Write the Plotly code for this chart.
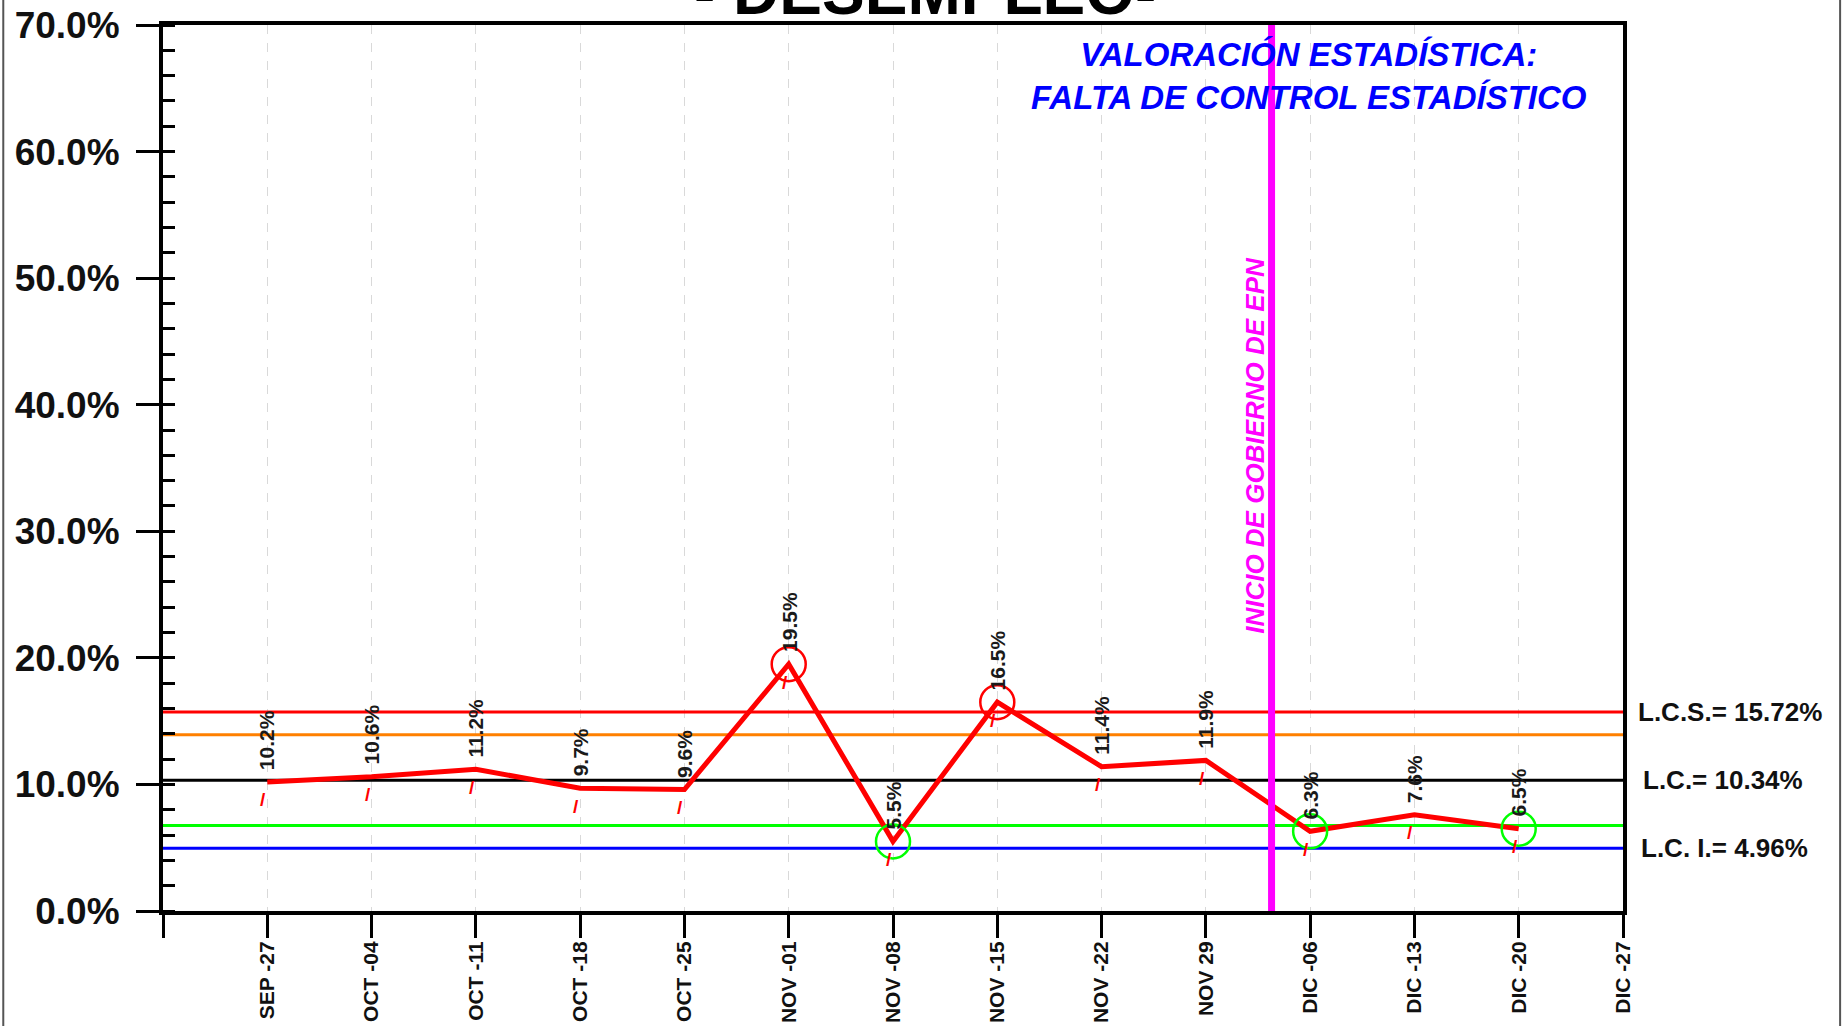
import plotly.graph_objects as go

# ---------------- data ----------------
weeks = ["SEP -27", "OCT -04", "OCT -11", "OCT -18", "OCT -25", "NOV -01", "NOV -08",
         "NOV -15", "NOV -22", "NOV 29", "DIC -06", "DIC -13", "DIC -20", "DIC -27"]
desempleo = [10.2, 10.6, 11.2, 9.7, 9.6, 19.5, 5.5, 16.5, 11.4, 11.9, 6.3, 7.6, 6.5]
LCS = 15.72
LC = 10.34
LCI = 4.96
LIM_SUP_2S = 13.93
LIM_INF_2S = 6.75
epn_pos = 10.63
y_ticks = [0, 10, 20, 30, 40, 50, 60, 70]

FONT = "Arial, Liberation Sans, sans-serif"

positions = list(range(1, len(weeks) + 1))
xs = positions[:len(desempleo)]
x_end = positions[-1]

fig = go.Figure()

# control lines
for val, col in [(LCS, "#ff0000"), (LIM_SUP_2S, "#ff8000"), (LC, "#000000"),
                 (LIM_INF_2S, "#00ff00"), (LCI, "#0000ff")]:
    fig.add_trace(go.Scatter(x=[0, x_end], y=[val, val], mode="lines",
                             line=dict(color=col, width=3), hoverinfo="skip",
                             showlegend=False))

# main data line
fig.add_trace(go.Scatter(x=xs, y=desempleo, mode="lines",
                         line=dict(color="#ff0000", width=5), showlegend=False))

# EPN vertical line
fig.add_trace(go.Scatter(x=[epn_pos, epn_pos], y=[y_ticks[0], y_ticks[-1]], mode="lines",
                         line=dict(color="#ff00ff", width=7), showlegend=False,
                         hoverinfo="skip"))

# out-of-control circles
red_x = [x for x, v in zip(xs, desempleo) if v > LCS]
red_y = [v for v in desempleo if v > LCS]
grn_x = [x for x, v in zip(xs, desempleo) if v < LIM_INF_2S]
grn_y = [v for v in desempleo if v < LIM_INF_2S]
fig.add_trace(go.Scatter(x=red_x, y=red_y, mode="markers",
                         marker=dict(symbol="circle-open", size=34, color="#ff0000",
                                     line=dict(width=2.5, color="#ff0000")),
                         showlegend=False))
fig.add_trace(go.Scatter(x=grn_x, y=grn_y, mode="markers",
                         marker=dict(symbol="circle-open", size=34, color="#00ff00",
                                     line=dict(width=2.5, color="#00ff00")),
                         showlegend=False))

annotations = []
# value labels and small red marks
for x, v in zip(xs, desempleo):
    annotations.append(dict(x=x, y=v, xref="x", yref="y", text=f"{v:.1f}%",
                            textangle=-90, showarrow=False, yanchor="bottom",
                            xanchor="center", yshift=10,
                            font=dict(family=FONT, size=21, color="#1a1a1a", weight="bold")))
    annotations.append(dict(x=x, y=v, xref="x", yref="y", text="/",
                            showarrow=False, yshift=-18, xshift=-4,
                            font=dict(family=FONT, size=19, color="#ff0000", weight="bold")))

# title (cut off at top)
annotations.append(dict(x=0.522, y=1.0, xref="paper", yref="paper", text="- DESEMPLEO-",
                        showarrow=False, yanchor="bottom", xanchor="center", yshift=-5,
                        font=dict(family=FONT, size=64, color="#000000", weight="bold")))
# statistical assessment text
annotations.append(dict(x=0.785, y=0.942, xref="paper", yref="paper",
                        text="VALORACIÓN ESTADÍSTICA:<br>FALTA DE CONTROL ESTADÍSTICO",
                        showarrow=False, xanchor="center", yanchor="middle",
                        font=dict(family=FONT, size=33, color="#0000ff", weight="bold",
                                  style="italic")))
# EPN label
annotations.append(dict(x=10.47, y=0.526, xref="x", yref="paper",
                        text="INICIO DE GOBIERNO DE EPN", textangle=-90, showarrow=False,
                        xanchor="center", yanchor="middle",
                        font=dict(family=FONT, size=26, color="#ff00ff", weight="bold",
                                  style="italic")))
# limit labels
for val, txt, xp in [(LCS, f"L.C.S.= {LCS:.2f}%", 1.009),
                     (LC, f"L.C.= {LC:.2f}%", 1.012),
                     (LCI, f"L.C. I.= {LCI:.2f}%", 1.011)]:
    annotations.append(dict(x=xp, y=val, xref="paper", yref="y", text=txt,
                            showarrow=False, xanchor="left", yanchor="middle",
                            font=dict(family=FONT, size=26, color="#111111", weight="bold")))

shapes = [
    dict(type="line", xref="paper", yref="paper", x0=-0.1094, x1=-0.1094, y0=-0.13, y1=1.03,
         line=dict(color="#555555", width=2)),
    dict(type="line", xref="paper", yref="paper", x0=1.1487, x1=1.1487, y0=-0.13, y1=1.03,
         line=dict(color="#555555", width=2)),
]

fig.update_layout(
    width=1843, height=1026,
    margin=dict(l=163, r=220, t=25, b=115, autoexpand=False),
    paper_bgcolor="white", plot_bgcolor="white",
    annotations=annotations, shapes=shapes,
    showlegend=False,
    xaxis=dict(range=[0, x_end], tickmode="array", tickvals=[0] + positions,
               ticktext=[""] + weeks, tickangle=-90, ticks="outside", ticklen=23,
               tickwidth=3, tickcolor="black", showline=True, linewidth=4,
               linecolor="black", mirror=True, showgrid=True, gridcolor="#d9d9d9",
               griddash="dash", gridwidth=1, zeroline=False, automargin=False,
               ticklabelstandoff=-5,
               tickfont=dict(family=FONT, size=21, color="#111111", weight="bold")),
    yaxis=dict(range=[y_ticks[0], y_ticks[-1]], tickmode="array", tickvals=y_ticks,
               ticktext=[f"{t:.1f}%" for t in y_ticks], ticks="outside", ticklen=23,
               tickwidth=3, tickcolor="black", showline=True, linewidth=4,
               linecolor="black", mirror=True, showgrid=False, zeroline=False,
               automargin=False, ticklabelstandoff=9,
               minor=dict(dtick=2, ticks="inside", ticklen=12, tickwidth=3,
                          tickcolor="black", showgrid=False),
               tickfont=dict(family=FONT, size=37, color="#111111", weight="bold")),
)

fig.write_html("out.html", config={"displayModeBar": False},
               post_script="document.body.style.margin='0';document.body.style.overflow='hidden';")
